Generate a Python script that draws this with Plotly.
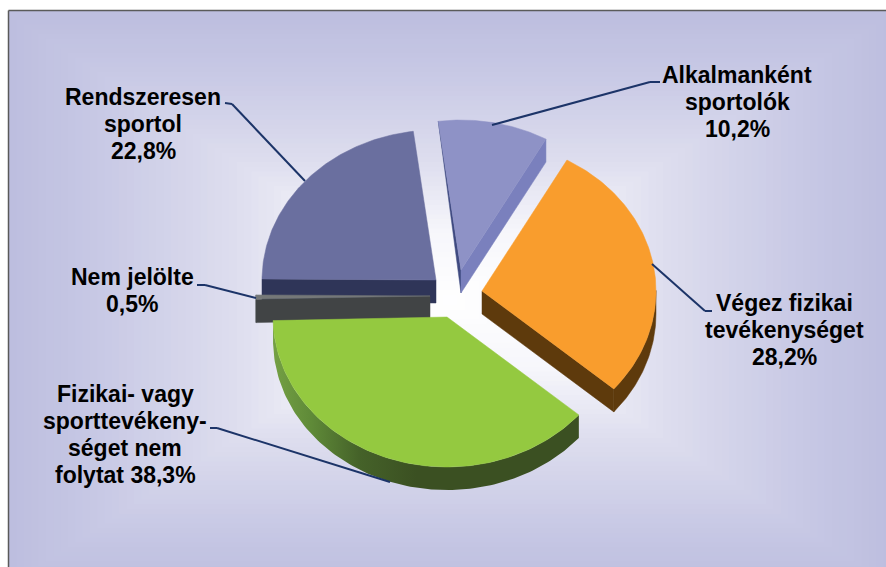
import numpy as np
import plotly.graph_objects as go

# ---- data ----
categories = ["Alkalmanként sportolók", "Végez fizikai tevékenységet",
              "Fizikai- vagy sporttevékenységet nem folytat", "Nem jelölte", "Rendszeresen sportol"]
values = [10.2, 28.2, 38.3, 0.5, 22.8]
label_lines = [
    ["Alkalmanként", "sportolók", "10,2%"],
    ["Végez fizikai", "tevékenységet", "28,2%"],
    ["Fizikai- vagy", "sporttevékeny-", "séget nem", "folytat 38,3%"],
    ["Nem jelölte", "0,5%"],
    ["Rendszeresen", "sportol", "22,8%"],
]

# ---- style / layout ----
W, H = 886, 567
CX, CY, RX, RY = 450, 295, 174, 150      # pie centre and radii in px
DEPTH = 23 / RY
START = 97.5
top_colors = ["#8e92c6", "#f99d2d", "#94c940", "#757878", "#6a6f9f"]
side_colors = ["#7a80bd", "#5e3a0c", "#3b5022", "#414445", "#2f3558"]
pull_px = [(11, 25), (32, 4), (-3, -22), (-20, -1), (-14, 15)]
draw_order = [0, 4, 1, 3, 2]
label_pos = [(737, 75), (784, 303), (125, 394), (132, 277), (143, 97)]
LINE_PITCH = 27
leaders = [
    [(660, 82), (650, 82), (492, 125)],
    [(712, 311), (705, 311), (652, 264)],
    [(210, 428), (217, 428), (390, 482)],
    [(197, 285), (205, 285), (256, 298)],
    [(225, 103), (232, 104), (305, 181)],
]


def px(x):
    return x / W


def py(y):
    return 1 - y / H


def lerp_hex(stops, t):
    ts = [s[0] for s in stops]
    rgb = [np.interp(t, ts, [s[1][i] for s in stops]) for i in range(3)]
    return "rgb(%d,%d,%d)" % tuple(int(round(v)) for v in rgb)


fig = go.Figure()


def poly(xs, ys, color, gradient=None):
    kw = dict(fillcolor=color, line=dict(color=color, width=0.5))
    if gradient is not None:
        kw = dict(fillgradient=gradient, line=dict(width=0))
    fig.add_trace(go.Scatter(x=list(xs) + [xs[0]], y=list(ys) + [ys[0]], mode="lines", fill="toself",
                             hoverinfo="skip", showlegend=False, **kw))


# slice angles from the values (clockwise from START)
fractions = np.array(values) / np.sum(values)
edges = START - 360 * np.concatenate([[0], np.cumsum(fractions)])

for i in draw_order:
    a0, a1 = np.radians(edges[i]), np.radians(edges[i + 1])
    ax_, ay_ = pull_px[i][0] / RX, pull_px[i][1] / RY
    th = np.linspace(a0, a1, 120)
    xr = ax_ + np.cos(th)
    yr = ay_ + np.sin(th)
    # start radial wall: faces the viewer when cos(angle) < 0
    if i == 0:
        # tapering far wall of the small slice (perspective)
        poly([xr[0], ax_, ax_], [yr[0], ay_, ay_ - DEPTH], "#3f4a80")
    elif np.cos(a0) < 0:
        poly([ax_, xr[0], xr[0], ax_], [ay_, yr[0], yr[0] - DEPTH, ay_ - DEPTH], side_colors[i])
    # end radial wall: faces the viewer when cos(angle) > 0
    if np.cos(a1) > 0:
        poly([ax_, xr[-1], xr[-1], ax_], [ay_, yr[-1], yr[-1] - DEPTH, ay_ - DEPTH], side_colors[i])
    # outer wall: only the front half
    front = np.sin(th) < 0.01
    if front.sum() > 1:
        xf, yf = xr[front], yr[front]
        grad = None
        if i == 2:
            x_l, x_r = ax_ - 1, ax_ + 0.1
            grad = dict(type="horizontal", start=x_l, stop=x_r,
                        colorscale=[[0, "#74a044"], [0.2, "#5f8a38"], [0.45, "#456229"],
                                    [0.75, "#3b5022"], [1, "#3b5022"]])
        poly(list(xf) + list(xf[::-1]), list(yf) + list((yf - DEPTH)[::-1]), side_colors[i], grad)
    # top face
    poly([ax_] + list(xr), [ay_] + list(yr), top_colors[i])

# ---- background: rectangular path gradient ----
FX0, FY0 = 9, 11
GX, GY, HX, HY = 450, 300, 441, 285
bg_stops = [(0, (255, 255, 255)), (0.25, (246, 246, 251)), (0.5, (221, 221, 238)),
            (0.8, (200, 201, 229)), (1.0, (189, 190, 223))]
shapes = [dict(type="rect", xref="paper", yref="paper", x0=px(FX0), x1=1, y0=0, y1=py(FY0),
               fillcolor=lerp_hex(bg_stops, 1), line_width=0, layer="below")]
N = 60
for k in range(N, 0, -1):
    t = k / N
    x0 = max(GX - HX * t, FX0)
    x1 = min(GX + HX * t, W)
    y0 = max(GY - HY * t, FY0)
    y1 = min(GY + HY * t, H)
    shapes.append(dict(type="rect", xref="paper", yref="paper", x0=px(x0), x1=px(x1), y0=py(y1), y1=py(y0),
                       fillcolor=lerp_hex(bg_stops, t), line_width=0, layer="below"))
# frame
for (x0, y0, x1, y1) in [(8.5, 10.5, W, 10.5), (8.5, 10.5, 8.5, H)]:
    shapes.append(dict(type="line", xref="paper", yref="paper", x0=px(x0), y0=py(y0), x1=px(x1), y1=py(y1),
                       line=dict(color="#5a5a5a", width=1.5)))
# leader lines
for pts in leaders:
    for p, q in zip(pts[:-1], pts[1:]):
        shapes.append(dict(type="line", xref="paper", yref="paper", x0=px(p[0]), y0=py(p[1]),
                           x1=px(q[0]), y1=py(q[1]), line=dict(color="#1c3468", width=2)))

annotations = []
for lines, (x, y) in zip(label_lines, label_pos):
    for j, text in enumerate(lines):
        annotations.append(dict(text="<b>%s</b>" % text, xref="paper", yref="paper", x=px(x), y=py(y + j * LINE_PITCH),
                                xanchor="center", yanchor="middle", showarrow=False,
                                font=dict(family="Liberation Sans", size=23, color="#000000")))

fig.update_layout(
    width=W, height=H, margin=dict(l=0, r=0, t=0, b=0),
    paper_bgcolor="#ffffff", plot_bgcolor="rgba(0,0,0,0)", showlegend=False,
    xaxis=dict(range=[-CX / RX, (W - CX) / RX], visible=False, fixedrange=True),
    yaxis=dict(range=[-(H - CY) / RY, CY / RY], visible=False, fixedrange=True),
    shapes=shapes, annotations=annotations,
)
fig.write_html("out.html", config=dict(displayModeBar=False),
               post_script="document.body.style.margin='0';document.documentElement.style.overflow='hidden';")
